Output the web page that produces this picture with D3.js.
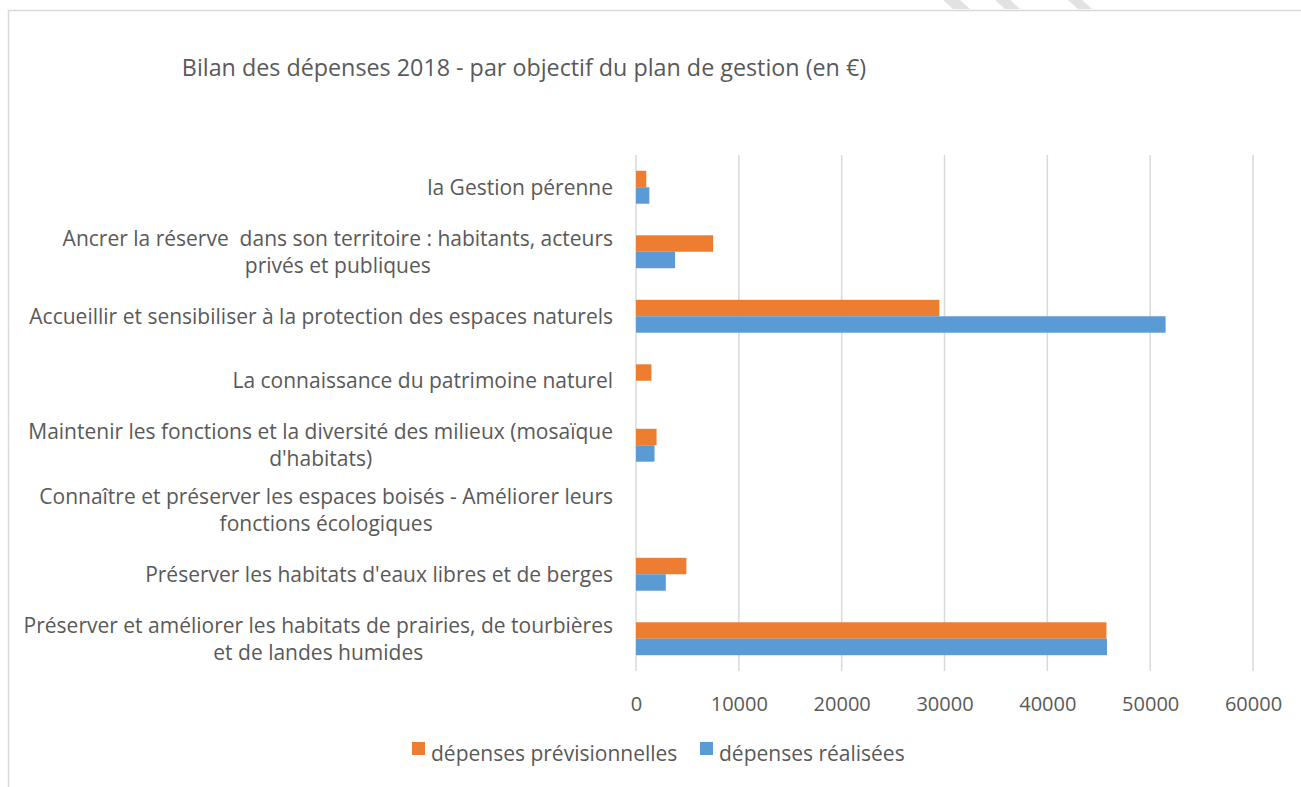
<!DOCTYPE html>
<html>
<head>
<meta charset="utf-8">
<script src="https://cdn.jsdelivr.net/npm/d3@7"></script>
<style>
  html, body { margin: 0; padding: 0; background: #fff; }
  svg { display: block; }
  text { font-family: "Open Sans", Lato, sans-serif; fill: #595959; white-space: pre; }
</style>
</head>
<body>
<svg id="chart" width="1301" height="787"></svg>
<script>
// Objectifs du plan de gestion (top to bottom)
const categories = [
  "la Gestion pérenne",
  "Ancrer la réserve  dans son territoire : habitants, acteurs privés et publiques",
  "Accueillir et sensibiliser à la protection des espaces naturels",
  "La connaissance du patrimoine naturel",
  "Maintenir les fonctions et la diversité des milieux (mosaïque d'habitats)",
  "Connaître et préserver les espaces boisés - Améliorer leurs fonctions écologiques",
  "Préserver les habitats d'eaux libres et de berges",
  "Préserver et améliorer les habitats de prairies, de tourbières et de landes humides"
];
const seriesNames = ["dépenses prévisionnelles", "dépenses réalisées"];
const previsionnelles = [1000, 7500, 29500, 1500, 2000, 0, 4900, 45750];
const realisees       = [1300, 3800, 51500, 0, 1800, 0, 2900, 45800];
const xTicks = [0, 10000, 20000, 30000, 40000, 50000, 60000];
const title = "Bilan des dépenses 2018 - par objectif du plan de gestion (en €)";
const colors = ["#ED7D31", "#5B9BD5"];

const FONT = 21;

const svg = d3.select("#chart");

// chart frame
svg.append("path")
  .attr("d", "M8.5,787 L8.5,10.5 L1301,10.5")
  .attr("fill", "none").attr("stroke", "#d9d9d9").attr("stroke-width", 1.5);

// faint marks above the frame
[[943, 970], [995, 1020], [1068, 1092]].forEach(([a, b]) => {
  svg.append("path")
    .attr("d", `M${a},0 L${b - 10},0 L${b},9 L${a + 10},9 Z`)
    .attr("fill", "#e2e2e2");
});

svg.append("text")
  .attr("x", 524).attr("y", 68)
  .attr("dy", "0.35em")
  .attr("text-anchor", "middle")
  .attr("font-size", 23.3)
  .text(title);

const x = d3.scaleLinear().domain([0, 60000]).range([636, 1253]);
const y = d3.scaleBand().domain(categories).range([155, 671])
  .paddingInner(0.49).paddingOuter(0.245);
const ySub = d3.scaleBand().domain(seriesNames).range([0, y.bandwidth()]);

// vertical gridlines
svg.append("g")
  .selectAll("line")
  .data(xTicks)
  .join("line")
  .attr("x1", d => x(d)).attr("x2", d => x(d))
  .attr("y1", 155).attr("y2", 671)
  .attr("stroke", "#d9d9d9").attr("stroke-width", 1.5);

// x axis tick labels
const xAxis = d3.axisBottom(x).tickValues(xTicks).tickSize(0).tickPadding(0)
  .tickFormat(d3.format("d"));
const gx = svg.append("g").attr("transform", "translate(0,704)").call(xAxis);
gx.select(".domain").remove();
gx.selectAll("text").attr("font-size", 20).attr("dy", "0.35em")
  .style("font-family", "'Open Sans', Lato, sans-serif").attr("fill", "#595959");

// bars
const seriesData = [previsionnelles, realisees];
seriesData.forEach((vals, si) => {
  svg.append("g")
    .selectAll("rect")
    .data(vals.map((v, i) => ({ cat: categories[i], v })).filter(d => d.v > 0))
    .join("rect")
    .attr("x", x(0))
    .attr("y", d => y(d.cat) + ySub(seriesNames[si]))
    .attr("width", d => x(d.v) - x(0))
    .attr("height", ySub.bandwidth())
    .attr("fill", colors[si]);
});

// category labels, wrapped; continuation lines centred under the first
const lineH = 27, maxW = 592, labelRight = 613;
const gy = svg.append("g");
categories.forEach(cat => {
  const t = gy.append("text").attr("font-size", FONT).attr("text-anchor", "end");
  const words = cat.split(" ");
  const lines = [];
  let cur = null;
  words.forEach(w => {
    const test = cur === null ? w : cur + " " + w;
    t.text(test);
    if (t.node().getComputedTextLength() > maxW && cur !== null) {
      lines.push(cur); cur = w;
    } else cur = test;
  });
  lines.push(cur);
  t.text(null);
  const cy = y(cat) + y.bandwidth() / 2;
  const y0 = cy - (lines.length - 1) * lineH / 2;
  const spans = lines.map((ln, i) => t.append("tspan")
    .attr("x", labelRight)
    .attr("y", y0 + i * lineH)
    .attr("dy", "0.35em")
    .text(ln));
  if (lines.length > 1) {
    const firstW = spans[0].node().getComputedTextLength();
    const mid = labelRight - firstW / 2;
    spans.slice(1).forEach(s => s.attr("x", mid).attr("text-anchor", "middle"));
  }
});

// legend
const legend = svg.append("g");
const legendPos = [412, 700];
seriesNames.forEach((name, i) => {
  legend.append("rect")
    .attr("x", legendPos[i]).attr("y", 742)
    .attr("width", 13).attr("height", 13)
    .attr("fill", colors[i]);
  legend.append("text")
    .attr("x", legendPos[i] + 19).attr("y", 754)
    .attr("dy", "0.35em")
    .attr("font-size", FONT)
    .text(name);
});
</script>
</body>
</html>
